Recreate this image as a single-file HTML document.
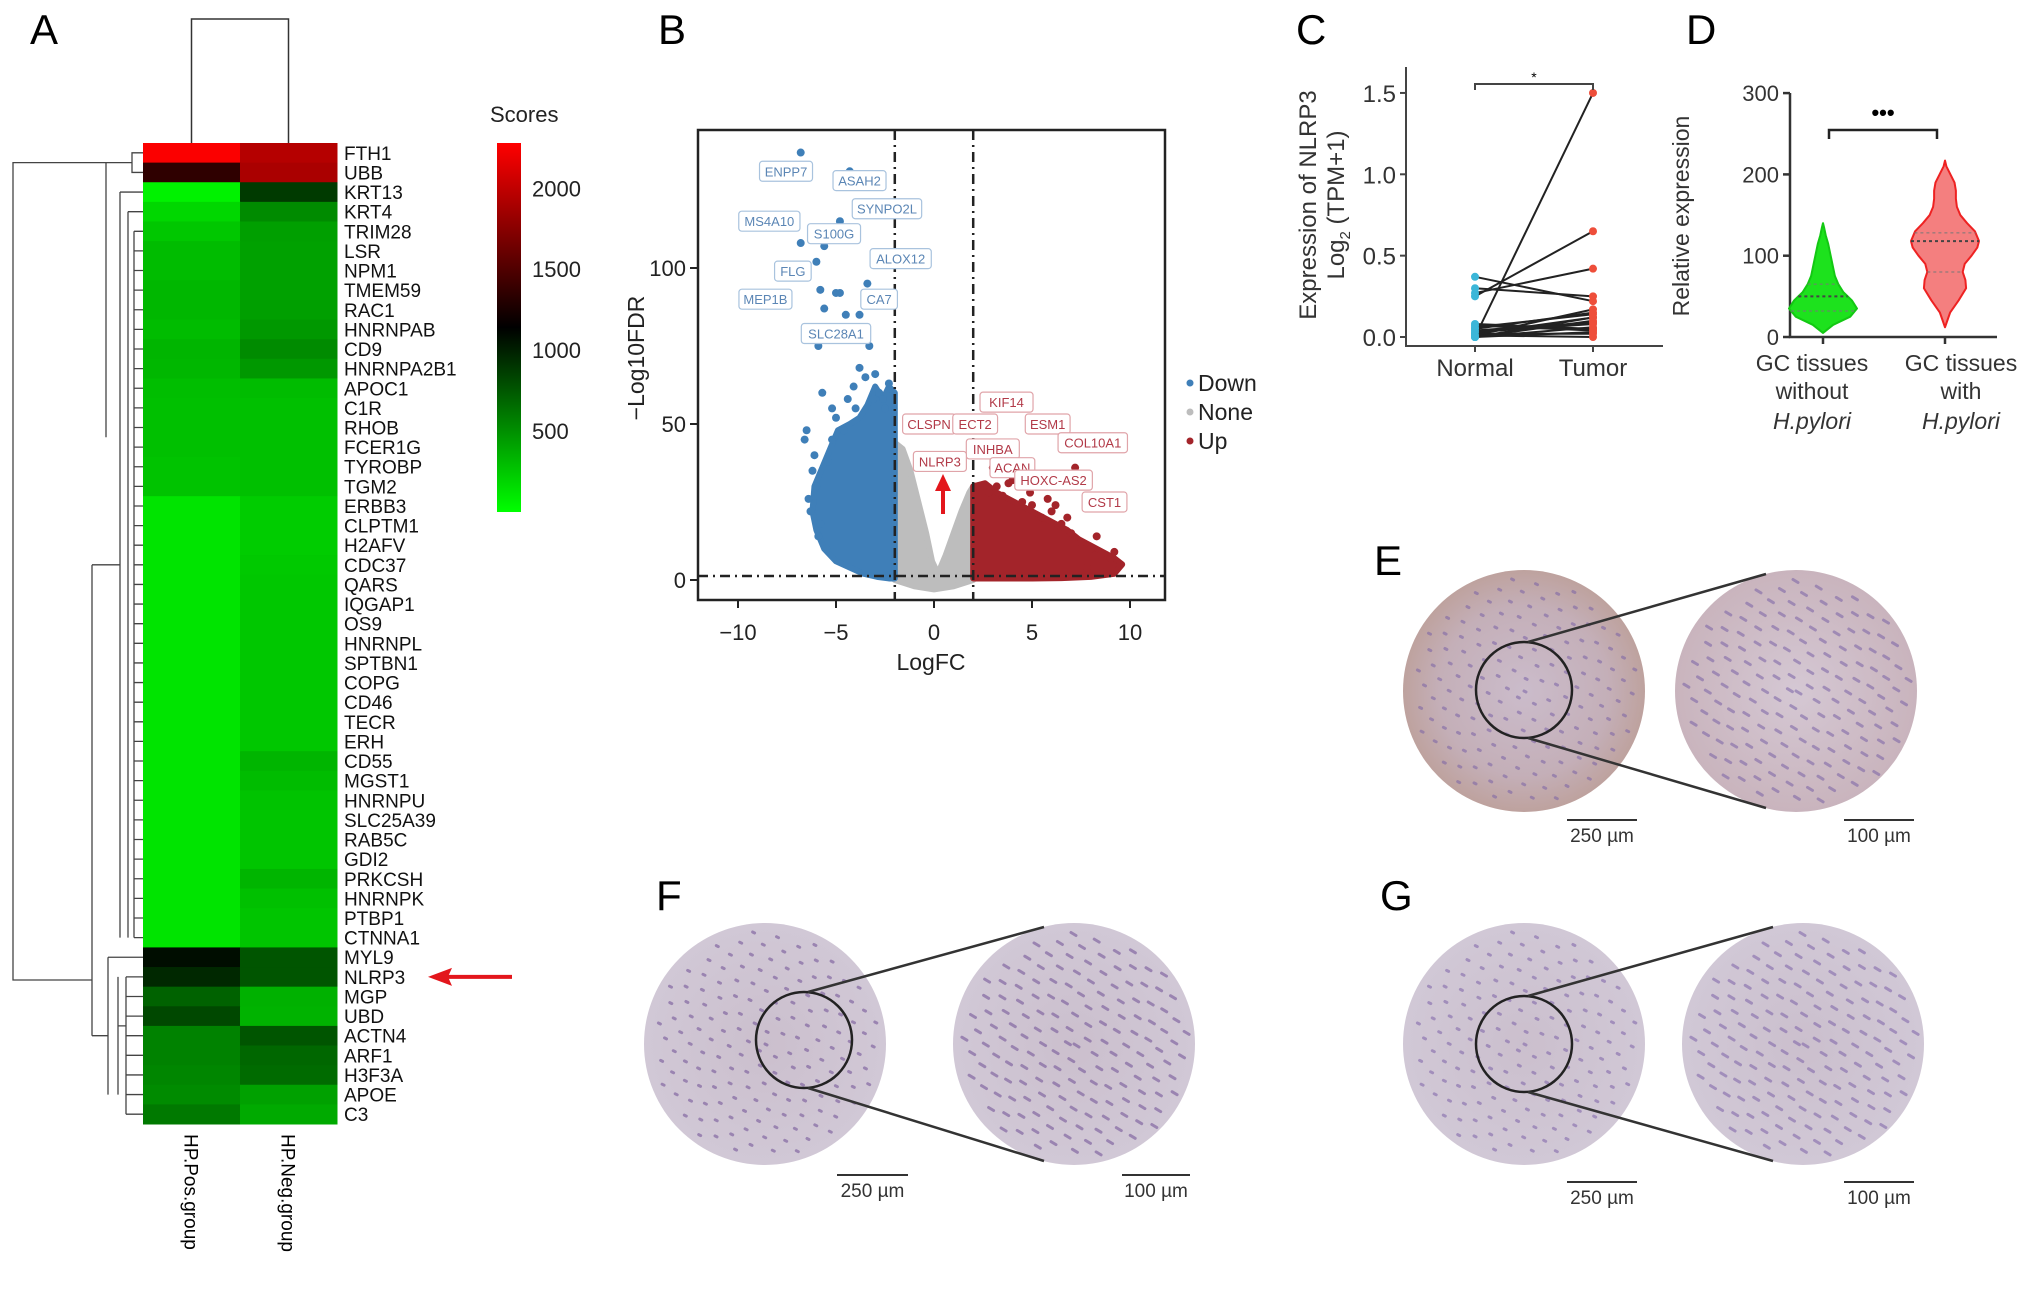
<!DOCTYPE html>
<html><head><meta charset="utf-8"><style>
html,body{margin:0;padding:0;background:#fff}
svg{display:block;font-family:"Liberation Sans",Arial,sans-serif}
</style></head><body>
<svg id="fig" width="2032" height="1297" viewBox="0 0 2032 1297" xmlns="http://www.w3.org/2000/svg">
<defs>
<radialGradient id="gE" cx="50%" cy="50%" r="50%"><stop offset="0" stop-color="#cbbccb"/><stop offset="0.7" stop-color="#c4afb8"/><stop offset="1" stop-color="#bea29e"/></radialGradient>
<radialGradient id="gEz" cx="50%" cy="50%" r="50%"><stop offset="0" stop-color="#d5c8d4"/><stop offset="1" stop-color="#c9b4bd"/></radialGradient>
<radialGradient id="gF" cx="50%" cy="50%" r="50%"><stop offset="0" stop-color="#cbbfcd"/><stop offset="1" stop-color="#d1c8d6"/></radialGradient>
<clipPath id="clipB"><rect x="698" y="130" width="467" height="470"/></clipPath>
</defs>
<g id="A"></g>
<g id="B"></g>
<g id="C"></g>
<g id="D"></g>
<g id="IMG"></g>
</svg>
<script>
// ---------- Panel A data ----------
const genes=["FTH1","UBB","KRT13","KRT4","TRIM28","LSR","NPM1","TMEM59","RAC1","HNRNPAB","CD9","HNRNPA2B1","APOC1","C1R","RHOB","FCER1G","TYROBP","TGM2","ERBB3","CLPTM1","H2AFV","CDC37","QARS","IQGAP1","OS9","HNRNPL","SPTBN1","COPG","CD46","TECR","ERH","CD55","MGST1","HNRNPU","SLC25A39","RAB5C","GDI2","PRKCSH","HNRNPK","PTBP1","CTNNA1","MYL9","NLRP3","MGP","UBD","ACTN4","ARF1","H3F3A","APOE","C3"];
const posScores=[2260,1350,60,180,250,300,300,320,320,300,330,320,290,280,280,280,270,270,120,120,120,120,120,120,120,120,120,120,120,120,120,120,120,120,120,120,120,120,120,120,120,1080,960,700,820,560,560,540,520,600];
const negScores=[1950,1900,880,520,430,420,420,420,430,460,520,460,300,280,280,280,280,280,230,230,230,240,250,250,250,250,250,250,250,250,250,330,300,270,260,260,260,330,280,260,260,760,760,350,340,760,680,660,420,380];
const colLabels=["HP.Pos.group","HP.Neg.group"];
const cbTicks=[2000,1500,1000,500];

// ---------- Panel B data ----------
const blueCloudFC=[-2,-2,-2.3,-2.6,-3,-3.4,-3.8,-4.3,-4.9,-5.3,-5.7,-6.1,-6.2,-6.0,-5.6,-5.0,-4.3,-3.6,-2.9,-2.3];
const blueCloudP=[0.5,60,62,58,62,56,52,50,48,42,36,30,22,16,10,6,4,2,1,0.5];
const greyCloudFC=[-2,-2,-1.6,-1.2,-0.8,-0.4,-0.1,0.2,0.6,1.0,1.4,1.8,2,2,1,0,-1];
const greyCloudP=[0,44,42,35,25,15,6,2,8,15,22,28,30,0,-2,-3,-2];
const redCloudFC=[2,2,2.6,3.2,3.8,4.4,5.0,5.6,6.2,6.8,7.4,8.0,8.6,9.2,9.6,9.2,8.0,6.5,5,3.5];
const redCloudP=[0.5,30,31,28,26,24,22,20,18,16,13,11,9,7,5,2,1,0.6,0.5,0.5];
const blueDotFC=[-6.8,-4.3,-4.8,-6.8,-5.6,-6.0,-3.4,-5.8,-5.0,-4.8,-4.5,-3.8,-5.6,-5.9,-3.3,-3.8,-3.5,-2.3,-2.8,-5.7,-5.2,-4.0,-4.4,-6.6,-6.5,-6.2,-6.0,-6.3,-5.8,-5.5,-5.9,-5.2,-3.1,-2.5,-4.6,-5.4,-6.4,-6.1,-5.0,-4.1,-3.0,-2.6];
const blueDotP=[137,131,115,108,107,102,95,93,92,92,85,85,87,75,75,68,65,63,60,60,55,55,58,45,48,35,30,22,18,10,14,45,58,55,48,38,26,40,52,62,66,58];
const redDotFC=[2.2,2.8,3.5,4.5,5.0,6.0,6.5,7.0,7.5,8.0,8.5,9.0,9.5,8.8,7.8,4.6,3.2,5.5,7.2,6.2,4.0,3.0,5.8,6.8,8.3,9.2,4.9,3.8];
const redDotP=[30,28,27,25,24,22,18,15,12,10,8,7,5,3,4,38,30,20,36,24,32,36,26,20,14,9,28,31];
const downLabels=["ENPP7","ASAH2","SYNPO2L","MS4A10","S100G","ALOX12","FLG","MEP1B","CA7","SLC28A1"];
const downLabelFC=[-7.55,-3.8,-2.4,-8.4,-5.1,-1.7,-7.2,-8.6,-2.8,-5.0];
const downLabelP=[131,128,119,115,111,103,99,90,90,79];
const upLabels=["KIF14","CLSPN","ECT2","ESM1","INHBA","COL10A1","NLRP3","ACAN","HOXC-AS2","CST1"];
const upLabelFC=[3.7,-0.25,2.1,5.8,3.0,8.1,0.3,4.0,6.1,8.7];
const upLabelP=[57,50,50,50,42,44,38,36,32,25];
const xTicksB=[-10,-5,0,5,10];
const yTicksB=[0,50,100];

// ---------- Panel C data ----------
const normalVals=[0.0,0.25,0.27,0.37,0.30,0.05,0.02,0.0,0.08,0.03,0.0,0.01,0.06,0.0,0.02,0.04,0.0,0.07,0.01];
const tumorVals=[1.5,0.65,0.42,0.22,0.25,0.15,0.12,0.10,0.05,0.08,0.03,0.0,0.14,0.06,0.02,0.09,0.12,0.04,0.17];
const yTicksC=[0.0,0.5,1.0,1.5];
const groupsC=["Normal","Tumor"];

// ---------- Panel D data ----------
const greenY=[5,15,25,35,45,55,65,75,85,95,105,115,125,135,140];
const greenDens=[0,0.3,0.8,1.0,0.85,0.6,0.45,0.35,0.3,0.25,0.2,0.15,0.08,0.03,0];
const redY=[12,30,45,60,70,80,90,100,110,118,130,140,150,160,170,180,190,200,210,217];
const redDens=[0,0.15,0.4,0.62,0.6,0.52,0.58,0.78,0.95,1.0,0.88,0.65,0.45,0.35,0.32,0.32,0.28,0.16,0.04,0];
const greenQuart=[32,50,65];
const redQuart=[80,118,128];
const yTicksD=[0,100,200,300];

const NS="http://www.w3.org/2000/svg";
function mk(parent,tag,attrs,text){const e=document.createElementNS(NS,tag);for(const k in attrs)e.setAttribute(k,attrs[k]);if(text!==undefined)e.textContent=text;parent.appendChild(e);return e;}

// ================= Panel A =================
(function(){
const g=document.getElementById('A');
let t=mk(g,'text',{x:30,y:44,'font-size':42},'A');


const x0=143,cw=97,y0=143,rh=19.62;
function col(v){const m=1140;let r=0,gg=0;if(v<m){gg=Math.round(255*(1-v/m));}else{r=Math.round(255*Math.min(1,(v-m)/m));}return `rgb(${r},${gg},0)`;}
genes.forEach((name,i)=>{
  [posScores[i],negScores[i]].forEach((v,j)=>{
    const c=mk(g,'rect',{x:x0+j*cw,y:y0+i*rh,width:cw+0.5,height:rh+0.5,fill:col(v)});
    
    
  });
  const l=mk(g,'text',{x:344,y:y0+i*rh+rh/2+7,'font-size':19,fill:'#111'},name);
  
  
});
colLabels.forEach((s,j)=>{
  const cx=x0+j*cw+cw/2;
  const l=mk(g,'text',{x:0,y:0,'font-size':19,transform:`translate(${cx-7},1134) rotate(90)`},s);
  
  
});
const td=mk(g,'path',{d:`M${x0+cw/2},${y0} V19 H${x0+1.5*cw} V${y0}`,fill:'none',stroke:'#333','stroke-width':1.5});


const ry=i=>y0+i*rh+rh/2;
let d=`M${x0},${ry(0)} H132 V${ry(1)} H${x0} M132,${ry(0.5)} H106 V${y0+15*rh} M106,${ry(0.5)} H13 V 980 H92 `;
d+=`M92,${ry(21)} V${ry(45)} M92,${ry(21)} H120 M92,${ry(45)} H108 M120,${ry(2)} V${ry(40)} M120,${ry(2)} H${x0} M128,${ry(3)} H${x0} M128,${ry(3)} V${ry(40)} `;
for(let i=4;i<41;i++){d+=`M134,${ry(i)} H${x0} `;}
d+=`M134,${ry(4)} V${ry(40)} M108,${ry(41)} V${ry(48)} M108,${ry(41)} H${x0} M118,${ry(42)} V${ry(48)} `;
for(let i=42;i<50;i++){d+=`M126,${ry(i)} H${x0} `;}
d+=`M126,${ry(42)} V${ry(49)} M118,${ry(44.5)} H126`;
const ld=mk(g,'path',{d:d,fill:'none',stroke:'#444','stroke-width':1.3});


const ay=ry(42);
const ar=mk(g,'g',{});


mk(ar,'line',{x1:512,y1:ay,x2:445,y2:ay,stroke:'#e3161c','stroke-width':4});
mk(ar,'path',{d:`M428,${ay} L452,${ay-9} L448,${ay} L452,${ay+9} Z`,fill:'#e3161c'});
const cb=mk(g,'defs',{});
const lg=mk(cb,'linearGradient',{id:'cbg',x1:0,y1:1,x2:0,y2:0});
[[0,'#00ff00'],[0.5,'#000000'],[1,'#ff0000']].forEach(s=>mk(lg,'stop',{offset:s[0],'stop-color':s[1]}));
const cbTop=143,cbBot=512,vmax=2280;
const bar=mk(g,'rect',{x:497,y:cbTop,width:24,height:cbBot-cbTop,fill:'url(#cbg)'});


const st=mk(g,'text',{x:490,y:122,'font-size':22,fill:'#222'},'Scores');


cbTicks.forEach(v=>{
  const y=cbBot-(v/vmax)*(cbBot-cbTop);
  const l=mk(g,'text',{x:532,y:y+8,'font-size':22,fill:'#222'},String(v));
  
  
});
})();

// ================= Panel B =================
(function(){
const g=document.getElementById('B');
let t=mk(g,'text',{x:658,y:44,'font-size':42},'B');


const X=v=>934+v*19.6, Y=v=>580-v*3.12;
const cl=mk(g,'g',{'clip-path':'url(#clipB)'});
function cloud(fc,p,fill,name){
  const pts=fc.map((v,i)=>X(v)+','+Y(p[i])).join(' ');
  const e=mk(cl,'polygon',{points:pts,fill:fill,stroke:fill,'stroke-width':6,'stroke-linejoin':'round'});
  
  
}
cloud(greyCloudFC,greyCloudP,'#bdbdbd','none-points-cloud');
cloud(blueCloudFC,blueCloudP,'#3f7fb8','down-points-cloud');
cloud(redCloudFC,redCloudP,'#a3242a','up-points-cloud');
blueDotFC.forEach((v,i)=>{const c=mk(cl,'circle',{cx:X(v),cy:Y(blueDotP[i]),r:4,fill:'#3f7fb8'});
  
  });
redDotFC.forEach((v,i)=>{const c=mk(cl,'circle',{cx:X(v),cy:Y(redDotP[i]),r:4,fill:'#a3242a'});
  
  });
[[-2],[2]].forEach(a=>{const l=mk(g,'line',{x1:X(a[0]),y1:130,x2:X(a[0]),y2:600,stroke:'#222','stroke-width':2.5,'stroke-dasharray':'10,5,2,5'});
  
  });
const hl=mk(g,'line',{x1:698,y1:Y(1.3),x2:1165,y2:Y(1.3),stroke:'#222','stroke-width':2.5,'stroke-dasharray':'10,5,2,5'});


function labels(names,fc,p,stroke,fillT,kind){
  names.forEach((s,i)=>{
    const w=s.length*8.2+12,cx=X(fc[i]),cy=Y(p[i]);
    const lb=mk(g,'g',{});
    
    
    mk(lb,'rect',{x:cx-w/2,y:cy-10,width:w,height:20,rx:3,fill:'#fff',stroke:stroke,'stroke-width':1.2});
    mk(lb,'text',{x:cx,y:cy+5,'font-size':13,fill:fillT,'text-anchor':'middle'},s);
  });
}
labels(downLabels,downLabelFC,downLabelP,'#a9c3de','#5b86b5','down');
labels(upLabels,upLabelFC,upLabelP,'#e0a4a9','#b23a48','up');
const ra=mk(g,'g',{});


mk(ra,'line',{x1:943,y1:514,x2:943,y2:488,stroke:'#e3161c','stroke-width':4});
mk(ra,'path',{d:'M943,474 L951,491 L935,491 Z',fill:'#e3161c'});
const fr=mk(g,'rect',{x:698,y:130,width:467,height:470,fill:'none',stroke:'#222','stroke-width':2.5});


xTicksB.forEach(v=>{mk(g,'line',{x1:X(v),y1:600,x2:X(v),y2:608,stroke:'#222','stroke-width':2});
  const l=mk(g,'text',{x:X(v),y:640,'font-size':22,'text-anchor':'middle',fill:'#222'},v<0?'\u2212'+(-v):String(v));
  
  });
yTicksB.forEach(v=>{mk(g,'line',{x1:690,y1:Y(v),x2:698,y2:Y(v),stroke:'#222','stroke-width':2});
  const l=mk(g,'text',{x:686,y:Y(v)+8,'font-size':22,'text-anchor':'end',fill:'#222'},String(v));
  
  });
let xt=mk(g,'text',{x:931,y:670,'font-size':23,'text-anchor':'middle',fill:'#222'},'LogFC');


let yt=mk(g,'text',{x:0,y:0,'font-size':23,'text-anchor':'middle',fill:'#222',transform:'translate(644,358) rotate(-90)'},'\u2212Log10FDR');


[['Down','#3f7fb8',383],['None','#bdbdbd',412],['Up','#a3242a',441]].forEach(a=>{
  const lg=mk(g,'g',{});
  
  
  mk(lg,'circle',{cx:1190,cy:a[2],r:3.5,fill:a[1]});
  mk(lg,'text',{x:1198,y:a[2]+8,'font-size':23,fill:'#222'},a[0]);
});
})();

// ================= Panel C =================
(function(){
const g=document.getElementById('C');
let t=mk(g,'text',{x:1296,y:44,'font-size':42},'C');


const Y=v=>337-v*162.7, gx=[1475,1593];
const ax=mk(g,'path',{d:'M1406,67 V346 H1663',fill:'none',stroke:'#444','stroke-width':2});


yTicksC.forEach(v=>{mk(g,'line',{x1:1400,y1:Y(v),x2:1406,y2:Y(v),stroke:'#444','stroke-width':2});
  const l=mk(g,'text',{x:1396,y:Y(v)+9,'font-size':24,'text-anchor':'end',fill:'#333'},v.toFixed(1));
  
  });
groupsC.forEach((s,i)=>{mk(g,'line',{x1:gx[i],y1:346,x2:gx[i],y2:352,stroke:'#444','stroke-width':2});
  const l=mk(g,'text',{x:gx[i],y:376,'font-size':24,'text-anchor':'middle',fill:'#333'},s);
  
  });
normalVals.forEach((v,i)=>{
  const ln=mk(g,'line',{x1:gx[0],y1:Y(v),x2:gx[1],y2:Y(tumorVals[i]),stroke:'#222','stroke-width':2});
  
  
  const a=mk(g,'circle',{cx:gx[0],cy:Y(v),r:4,fill:'#3bb6d8'});
  
  
  const b=mk(g,'circle',{cx:gx[1],cy:Y(tumorVals[i]),r:4,fill:'#ee4e3a'});
  
  
});
const sb=mk(g,'path',{d:`M${gx[0]},90 V84 H${gx[1]} V90`,fill:'none',stroke:'#444','stroke-width':2});


mk(g,'text',{x:1534,y:82,'font-size':14,'text-anchor':'middle'},'*');
let y1=mk(g,'text',{x:0,y:0,'font-size':24,'text-anchor':'middle',fill:'#333',transform:'translate(1316,205) rotate(-90)'},'Expression of NLRP3');


let y2=mk(g,'text',{x:0,y:0,'font-size':24,'text-anchor':'middle',fill:'#333',transform:'translate(1344,205) rotate(-90)'});


mk(y2,'tspan',{},'Log');mk(y2,'tspan',{'font-size':15,dy:6},'2');mk(y2,'tspan',{dy:-6},' (TPM+1)');
})();

// ================= Panel D =================
(function(){
const g=document.getElementById('D');
let t=mk(g,'text',{x:1686,y:44,'font-size':42},'D');


const Y=v=>337-v*0.813, gx=[1823,1945], hw=34;
mk(g,'path',{d:'M1790,93 V337 H1997',fill:'none',stroke:'#333','stroke-width':2.5});
yTicksD.forEach(v=>{mk(g,'line',{x1:1783,y1:Y(v),x2:1790,y2:Y(v),stroke:'#333','stroke-width':2.5});
  const l=mk(g,'text',{x:1779,y:Y(v)+8,'font-size':22,'text-anchor':'end',fill:'#333'},String(v));
  
  });
gx.forEach(x=>mk(g,'line',{x1:x,y1:337,x2:x,y2:344,stroke:'#333','stroke-width':2.5}));
function violin(ys,ds,cx,fill,stroke,q,name){
  let r=ys.map((y,i)=>(cx+ds[i]*hw)+','+Y(y));
  let l=ys.slice().reverse().map((y,i)=>(cx-ds[ds.length-1-i]*hw)+','+Y(y));
  const p=mk(g,'polygon',{points:r.concat(l).join(' '),fill:fill,stroke:stroke,'stroke-width':2,'stroke-linejoin':'round'});
  
  
  function wAt(v){for(let i=1;i<ys.length;i++){if(v<=ys[i]){const f=(v-ys[i-1])/(ys[i]-ys[i-1]);return ds[i-1]+f*(ds[i]-ds[i-1]);}}return 0;}
  q.forEach((v,k)=>{const w=wAt(v)*hw;const ln=mk(g,'line',{x1:cx-w,y1:Y(v),x2:cx+w,y2:Y(v),stroke:k==1?'#444':'#777','stroke-width':k==1?2:1,'stroke-dasharray':'3,3'});
    
    });
}
violin(greenY,greenDens,gx[0],'#1de21d','#13c813',greenQuart,'violin-without-hpylori');
violin(redY,redDens,gx[1],'#f47f7f','#ee2222',redQuart,'violin-with-hpylori');
const br=mk(g,'path',{d:'M1829,139 V130 H1937 V139',fill:'none',stroke:'#222','stroke-width':2.5});


mk(g,'text',{x:1883,y:120,'font-size':22,'text-anchor':'middle','font-weight':'bold'},'\u2022\u2022\u2022');
let yt=mk(g,'text',{x:0,y:0,'font-size':23,'text-anchor':'middle',fill:'#333',transform:'translate(1689,216) rotate(-90)'},'Relative expression');


[[1812,'without'],[1961,'with']].forEach(a=>{
  const tl=mk(g,'text',{'font-size':23,'text-anchor':'middle',fill:'#333'});
  
  
  mk(tl,'tspan',{x:a[0],y:371},'GC tissues');
  mk(tl,'tspan',{x:a[0],y:399},a[1]);
  mk(tl,'tspan',{x:a[0],y:429,'font-style':'italic'},'H.pylori');
});
})();

// ================= IHC images =================
(function(){
const g=document.getElementById('IMG');
const panels=[
 {L:'E',lx:1374,ly:575,c:[1524,691],z:[1796,691],s:[1524,690],fill:'url(#gE)',zfill:'url(#gEz)',dot:'#7a62a6',b1:[1567,1637,820],b2:[1844,1914,820]},
 {L:'F',lx:656,ly:910,c:[765,1044],z:[1074,1044],s:[804,1040],fill:'url(#gF)',zfill:'url(#gF)',dot:'#6f4f95',b1:[837,908,1175],b2:[1122,1190,1175]},
 {L:'G',lx:1380,ly:910,c:[1524,1044],z:[1803,1044],s:[1524,1044],fill:'url(#gF)',zfill:'url(#gF)',dot:'#7d62a8',b1:[1567,1637,1182],b2:[1844,1914,1182]}
];
panels.forEach(p=>{
  const pg=mk(g,'g',{});
  
  
  mk(pg,'text',{x:p.lx,y:p.ly,'font-size':42},p.L);
  const R=121,r=48;
  mk(pg,'circle',{cx:p.c[0],cy:p.c[1],r:R,fill:p.fill});
  mk(pg,'circle',{cx:p.z[0],cy:p.z[1],r:R,fill:p.zfill});
  let d='';
  for(let k=0;k<160;k++){const a=k*2.39996,rr=Math.sqrt(k/160)*(R-8);
    d+=`M${(p.c[0]+rr*Math.cos(a)).toFixed(1)},${(p.c[1]+rr*Math.sin(a)).toFixed(1)} l2,1 `;
    d+=`M${(p.z[0]+rr*Math.cos(a+1)).toFixed(1)},${(p.z[1]+rr*Math.sin(a+1)).toFixed(1)} l5,3 `;}
  mk(pg,'path',{d:d,stroke:p.dot,'stroke-width':3,'stroke-linecap':'round',opacity:0.55});
  mk(pg,'circle',{cx:p.s[0],cy:p.s[1],r:r,fill:'none',stroke:'#222','stroke-width':2.5});
  mk(pg,'path',{d:`M${p.s[0]+4},${p.s[1]-r} L${p.z[0]-30},${p.z[1]-R+4} M${p.s[0]+4},${p.s[1]+r} L${p.z[0]-30},${p.z[1]+R-4}`,stroke:'#333','stroke-width':2.5,fill:'none'});
  [[p.b1,'250'],[p.b2,'100']].forEach(b=>{
    mk(pg,'line',{x1:b[0][0],y1:b[0][2],x2:b[0][1],y2:b[0][2],stroke:'#333','stroke-width':2});
    const tt=mk(pg,'text',{x:(b[0][0]+b[0][1])/2,y:b[0][2]+22,'font-size':19,'text-anchor':'middle',fill:'#333'},b[1]+' \u00b5m');
    
    
  });
});
})();
</script>
</body></html>
